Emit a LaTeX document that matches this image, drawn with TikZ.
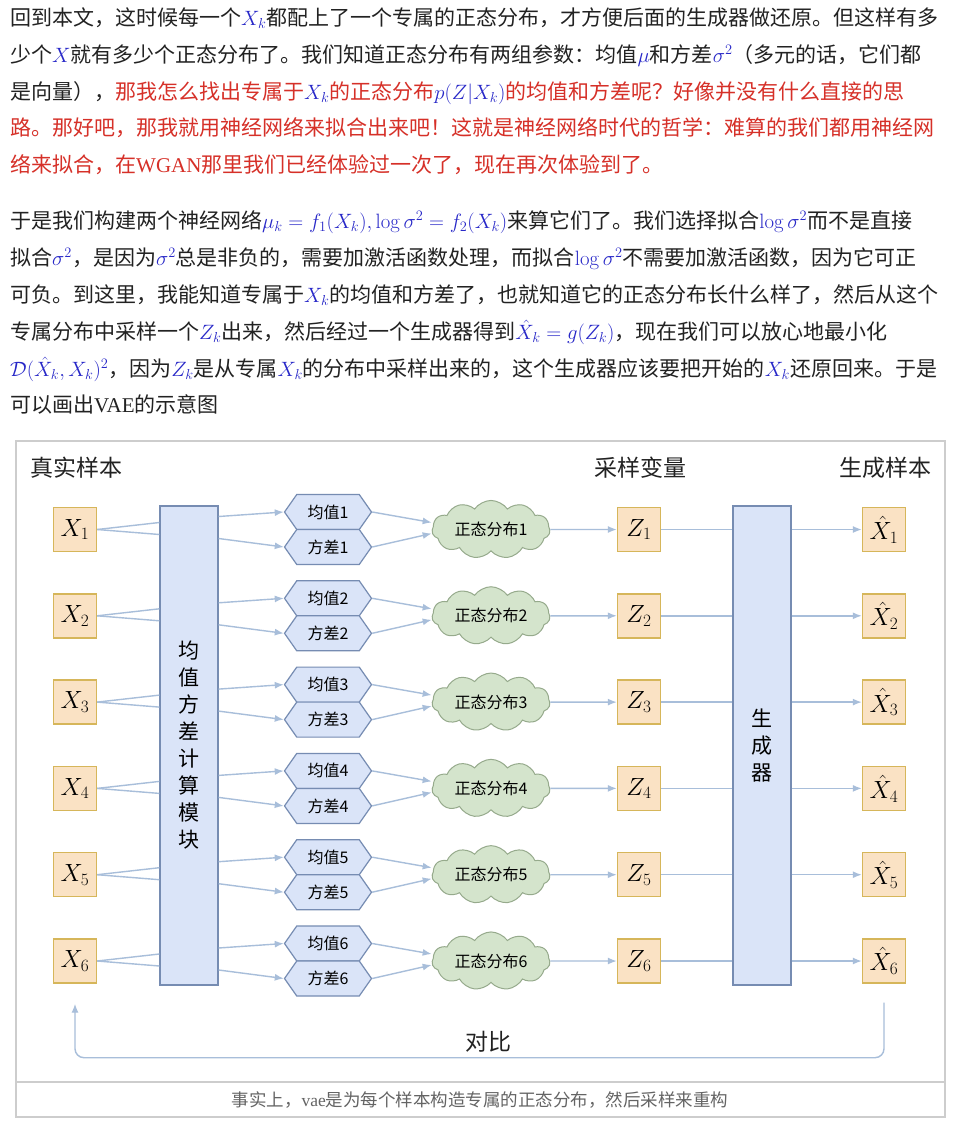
\documentclass[tikz,border=0pt]{standalone}
\usepackage[no-math]{fontspec}
\setmainfont{Noto Sans CJK SC}
\newfontfamily\tms{Liberation Serif}
\usetikzlibrary{shapes.symbols,arrows.meta,calc}
\definecolor{txt}{RGB}{34,34,34}
\definecolor{redt}{RGB}{214,48,40}
\definecolor{mblue}{RGB}{40,40,200}
\definecolor{xfill}{RGB}{250,226,196}
\definecolor{xdraw}{RGB}{214,182,90}
\definecolor{bfill}{RGB}{218,228,248}
\definecolor{bdraw}{RGB}{118,140,178}
\definecolor{cfill}{RGB}{212,228,204}
\definecolor{cdraw}{RGB}{150,170,140}
\definecolor{arr}{RGB}{168,190,218}
\definecolor{framec}{RGB}{205,205,205}
\definecolor{capt}{RGB}{100,100,100}
\newcommand\mb[1]{\textcolor{mblue}{$#1$}}
\tikzset{
 para/.style={anchor=base west, inner sep=0pt, text=txt, font=\fontsize{21}{21}\selectfont},
 xbox/.style={draw=xdraw, fill=xfill, line width=1.4pt, minimum width=43, minimum height=44, inner sep=0pt, font=\fontsize{24}{24}\selectfont},
 bigbox/.style={draw=bdraw, fill=bfill, line width=1.2pt, minimum width=58, minimum height=479, inner sep=0pt, font=\fontsize{21}{27}\selectfont, align=center},
 hexa/.style={shape=signal, signal to=east and west, signal pointer angle=110, draw=bdraw, fill=bfill, line width=1.2pt, minimum width=87, minimum height=35, inner sep=0pt, font=\fontsize{16}{16}\selectfont},
 cloudn/.style={cloud, cloud puffs=11, cloud puff arc=110, aspect=2.3, draw=cdraw, fill=cfill, line width=1pt, minimum width=118, minimum height=56, inner sep=0pt, font=\fontsize{16}{16}\selectfont},
 title/.style={font=\fontsize{23}{23}\selectfont, text=txt, inner sep=0pt},
 conn/.style={draw=arr, line width=1.4pt},
 arrow/.style={conn, -{Latex[length=9pt,width=7pt]}},
}
\begin{document}
\begin{tikzpicture}[x=1pt,y=-1pt]
\useasboundingbox[fill=white] (0,0) rectangle (954,1132);
% paragraph 1
\node[para] (p1) at (10,25.5) {回到本文，这时候每一个\mb{X_k}都配上了一个专属的正态分布，才方便后面的生成器做还原。但这样有多};
\node[para] (p2) at (10,62.5) {少个\mb{X}就有多少个正态分布了。我们知道正态分布有两组参数：均值\mb{\mu}和方差\mb{\sigma^2}（多元的话，它们都};
\node[para] (p3) at (10,99.5) {是向量），\textcolor{redt}{那我怎么找出专属于\mb{X_k}的正态分布\mb{p(Z|X_k)}的均值和方差呢？好像并没有什么直接的思}};
\node[para, text=redt] (p4) at (10,135.5) {路。那好吧，那我就用神经网络来拟合出来吧！这就是神经网络时代的哲学：难算的我们都用神经网};
\node[para, text=redt] (p5) at (10,172.5) {络来拟合，在{\tms WGAN}那里我们已经体验过一次了，现在再次体验到了。};
% paragraph 2
\node[para] (q1) at (10,228.5) {于是我们构建两个神经网络\mb{\mu_k = f_1(X_k), \log\sigma^2 = f_2(X_k)}来算它们了。我们选择拟合\mb{\log\sigma^2}而不是直接};
\node[para] (q2) at (10,265.5) {拟合\mb{\sigma^2}，是因为\mb{\sigma^2}总是非负的，需要加激活函数处理，而拟合\mb{\log\sigma^2}不需要加激活函数，因为它可正};
\node[para] (q3) at (10,302.5) {可负。到这里，我能知道专属于\mb{X_k}的均值和方差了，也就知道它的正态分布长什么样了，然后从这个};
\node[para] (q4) at (10,339.5) {专属分布中采样一个\mb{Z_k}出来，然后经过一个生成器得到\mb{\hat{X}_k = g(Z_k)}，现在我们可以放心地最小化};
\node[para] (q5) at (10,376.5) {\mb{\mathcal{D}(\hat{X}_k, X_k)^2}，因为\mb{Z_k}是从专属\mb{X_k}的分布中采样出来的，这个生成器应该要把开始的\mb{X_k}还原回来。于是};
\node[para] (q6) at (10,412.5) {可以画出{\tms VAE}的示意图};
% frame
\draw[framec, line width=1.3pt] (16,441) rectangle (945,1117);
\draw[framec, line width=1.3pt] (16,1082) -- (945,1082);
\node[font=\fontsize{17.5}{17.5}\selectfont, text=capt, inner sep=0pt] (cap) at (480,1100) {事实上，{\tms vae}是为每个样本构造专属的正态分布，然后采样来重构};
% titles
\node[title] (t1) at (76,468) {真实样本};
\node[title] (t2) at (640,468) {采样变量};
\node[title] (t3) at (885,468) {生成样本};
% big boxes
\node[bigbox] (enc) at (189,745.5) {均\\值\\方\\差\\计\\算\\模\\块};
\node[bigbox] (gen) at (762,745.5) {生\\成\\器};
% rows
\foreach \k in {1,...,6} {
 \pgfmathsetmacro\ry{529.5+(\k-1)*86.3}
 \node[xbox] (x\k) at (75,\ry) {$X_{\k}$};
 \node[hexa] (m\k) at (328,\ry-17.5) {均值\k};
 \node[hexa] (v\k) at (328,\ry+17.5) {方差\k};
 \node[cloudn] (c\k) at (491,\ry) {正态分布\k};
 \node[xbox] (z\k) at (639,\ry) {$Z_{\k}$};
 \node[xbox] (h\k) at (884,\ry) {$\hat{X}_{\k}$};
}
\foreach \k in {1,...,6} {
 \draw[conn] (x\k.east) -- ($(enc.west|-x\k)+(0,-7)$);
 \draw[conn] (x\k.east) -- ($(enc.west|-x\k)+(0,5)$);
 \draw[arrow] ($(enc.east|-x\k)+(0,-13)$) -- (m\k.west);
 \draw[arrow] ($(enc.east|-x\k)+(0,9)$) -- (v\k.west);
 \draw[arrow] (m\k.east) -- ($(c\k.west)+(0,-7)$);
 \draw[arrow] (v\k.east) -- ($(c\k.west)+(0,4)$);
 \draw[arrow] (c\k.east) -- (z\k.west);
 \draw[conn] (z\k.east) -- (gen.west|-z\k);
 \draw[arrow] (gen.east|-h\k) -- (h\k.west);
}
\draw[arrow, rounded corners=9pt] ([yshift=-19pt]h6.south) -- ++(0,55) -| ([yshift=-20pt]x6.south);
\node[title] (cmp) at (488,1042) {对比};
\end{tikzpicture}
\end{document}
